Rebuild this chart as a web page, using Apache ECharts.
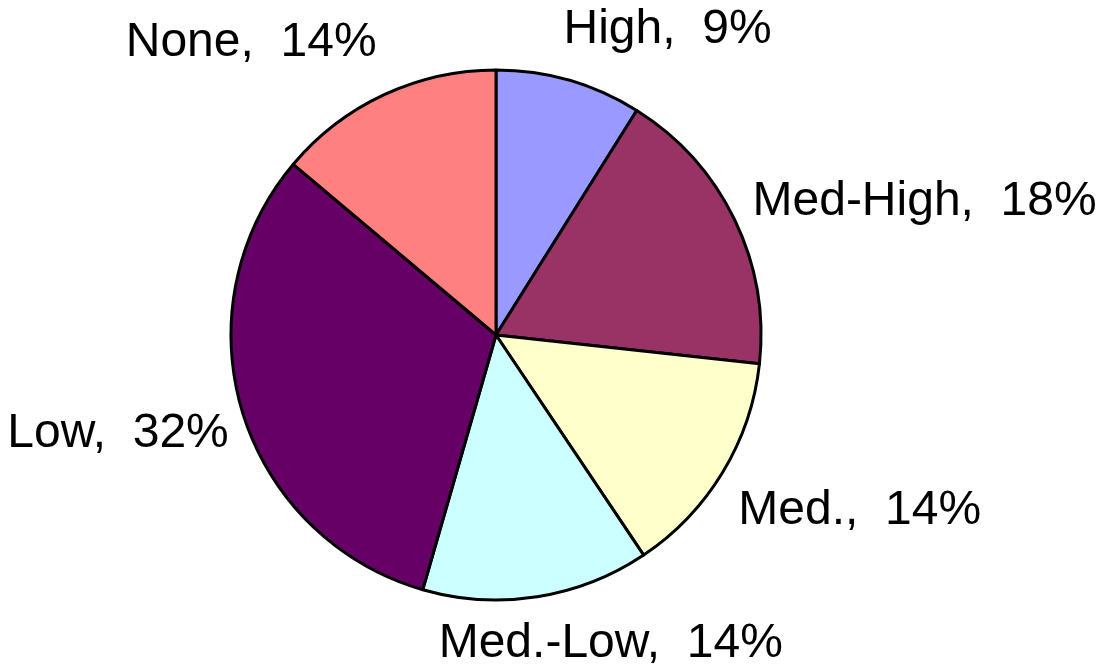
<!DOCTYPE html>
<html>
<head>
<meta charset="utf-8">
<script src="https://cdn.jsdelivr.net/npm/echarts@6/dist/echarts.min.js"></script>
<style>
  html, body { margin: 0; padding: 0; background: #fff; }
  #chart { width: 1098px; height: 668px; }
</style>
</head>
<body>
<div id="chart"></div>
<script>
// slices, clockwise from 12 o'clock
const categories = ['High', 'Med-High', 'Med.', 'Med.-Low', 'Low', 'None'];
const percents = [9, 18, 14, 14, 32, 14];
const colors = ['#9999FF', '#993366', '#FFFFCC', '#CCFFFF', '#660066', '#FF8080'];
// nudges so the labels sit where the original put them
const labelNudge = [[-19, -22], [-14, -5], [-15, 23], [-108, 17], [20, 13], [10, -25]];

const chart = echarts.init(document.getElementById('chart'));

chart.setOption({
  animation: false,
  series: [{
    type: 'pie',
    center: [496, 335],
    radius: 265,
    startAngle: 90,
    clockwise: true,
    avoidLabelOverlap: false,
    itemStyle: {
      borderColor: '#000',
      borderWidth: 3
    },
    label: {
      show: true,
      position: 'outside',
      formatter: '{b},  {c}%',
      color: '#000',
      fontFamily: 'Liberation Sans, Arial, sans-serif',
      fontSize: 48
    },
    labelLine: {
      show: false,
      length: 30,
      length2: 0
    },
    labelLayout: function (params) {
      const n = labelNudge[params.dataIndex];
      return { dx: n[0], dy: n[1] };
    },
    emphasis: { disabled: true },
    data: categories.map((name, i) => ({
      name: name,
      value: percents[i],
      itemStyle: { color: colors[i] }
    }))
  }]
});
</script>
</body>
</html>
